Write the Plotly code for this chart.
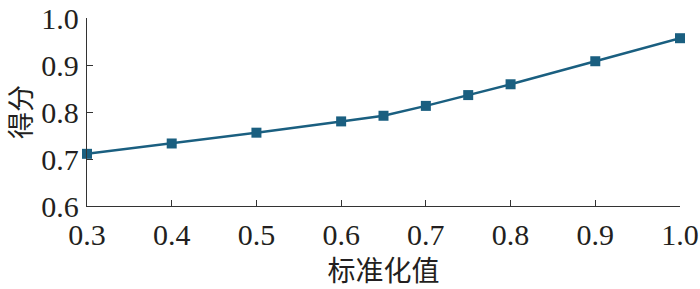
import plotly.graph_objects as go

x_vals = [0.3, 0.4, 0.5, 0.6, 0.65, 0.7, 0.75, 0.8, 0.9, 1.0]
y_vals = [0.711, 0.733, 0.756, 0.780, 0.792, 0.813, 0.836, 0.859, 0.908, 0.957]
x_ticks = [0.3, 0.4, 0.5, 0.6, 0.7, 0.8, 0.9, 1.0]
y_ticks = [0.6, 0.7, 0.8, 0.9, 1.0]
x_title = "标准化值"
y_title = "得分"

num_font = "Times New Roman, Liberation Serif, DejaVu Serif, serif"
cjk_font = "Noto Sans CJK SC"
color = "#1a5f80"
text_color = "#231f20"

fig = go.Figure(go.Scatter(
    x=x_vals, y=y_vals, mode="lines+markers",
    line=dict(color=color, width=2.5),
    marker=dict(symbol="square", size=10, color=color),
    cliponaxis=False,
))

axis_common = dict(
    showline=True, linecolor="#333333", linewidth=1.3,
    ticks="inside", ticklen=6, tickwidth=1.3, tickcolor="#333333",
    showgrid=False, zeroline=False, automargin=False,
    tickfont=dict(family=num_font, size=30, color=text_color),
)

fig.update_layout(
    width=700, height=289,
    margin=dict(l=87, r=20, t=18, b=83),
    paper_bgcolor="white", plot_bgcolor="white",
    showlegend=False,
    xaxis=dict(range=[0.3, 1.0], tickvals=x_ticks,
               ticktext=[f"{v:.1f}" for v in x_ticks],
               ticklabelstandoff=2,
               title=dict(text=x_title, font=dict(family=cjk_font, size=28, color=text_color), standoff=8),
               **axis_common),
    yaxis=dict(range=[0.6, 1.0], tickvals=y_ticks,
               ticktext=[f"{v:.1f}" for v in y_ticks],
               ticklabelstandoff=1,
               title=dict(text=y_title, font=dict(family=cjk_font, size=27, color=text_color), standoff=15),
               **axis_common),
)

fig.write_html("out.html")
